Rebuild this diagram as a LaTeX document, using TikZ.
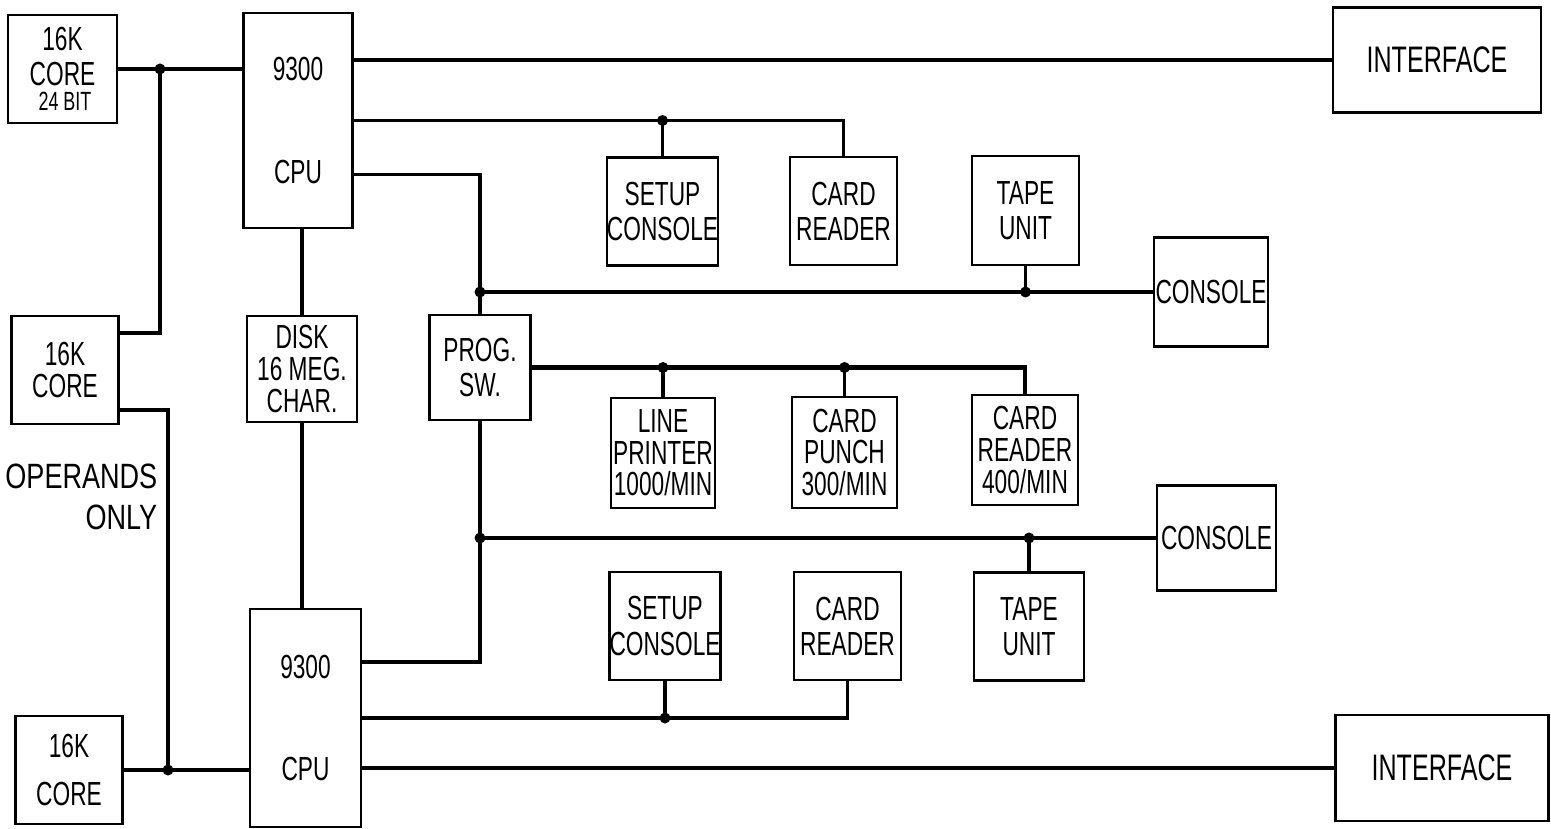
\documentclass[tikz,border=0pt]{standalone}
\usepackage{fontspec}
\setmainfont[FakeStretch=0.68]{Liberation Sans}
\newfontfamily\widefont[FakeStretch=0.77]{Liberation Sans}
\begin{document}
\begin{tikzpicture}[
    unit/.style={rectangle, draw=black, line width=0.75pt, align=center, inner sep=0pt, font=\fontsize{9.5}{11}\selectfont, minimum width=1.07cm, minimum height=1.08cm},
    cpu/.style={unit, minimum width=1.09cm, minimum height=2.15cm},
    iface/.style={unit, minimum width=2.1cm, minimum height=1.05cm, font=\fontsize{10.5}{12}\selectfont},
    bus/.style={draw=black, line width=0.95pt},
    dot/.style={circle, fill=black, inner sep=0pt, minimum size=0.11cm}
]
\useasboundingbox (0,0) rectangle (15.51,-8.29);

% Memories and processors
\node[unit, minimum width=1.09cm] (core1) at (0.625,-0.69) {16K\\[-1pt]CORE\\[-4pt]{\fontsize{7.5}{8}\selectfont\ 24 BIT}};
\node[unit] (core2) at (0.65,-3.70) {16K\\[-2pt]CORE};
\node[unit] (core3) at (0.69,-7.70) {16K\\[0.1cm]CORE};
\node[font=\widefont\fontsize{10}{11.5}\selectfont, align=right, anchor=east, inner sep=0pt] (ops) at (1.58,-4.97) {OPERANDS\\ONLY};
\node[cpu] (cpu1) at (2.98,-1.205) {9300\\[0.64cm]CPU};
\node[cpu, minimum width=1.11cm, minimum height=2.18cm] (cpu2) at (3.055,-7.18) {9300\\[0.64cm]CPU};
\node[unit, minimum width=1.10cm, minimum height=1.06cm] (disk) at (3.02,-3.69) {DISK\\[-2pt]16 MEG.\\[-2pt]CHAR.};

% Program switch
\node[unit, minimum width=1.01cm, minimum height=1.05cm] (psw) at (4.80,-3.675) {PROG.\\[-1pt]SW.};

% Peripherals, upper CPU
\node[unit] (setup1) at (6.625,-2.115) {SETUP\\[-1pt]CONSOLE};
\node[unit] (rdr1) at (8.435,-2.11) {CARD\\[-1pt]READER};
\node[unit, minimum height=1.09cm] (tape1) at (10.255,-2.105) {TAPE\\[-1pt]UNIT};
\node[unit, minimum width=1.14cm, minimum height=1.09cm] (con1) at (12.11,-2.92) {CONSOLE};

% Shared peripherals
\node[unit, minimum width=1.04cm, minimum height=1.10cm] (prt) at (6.63,-4.53) {LINE\\[-2pt]PRINTER\\[-2pt]1000/MIN};
\node[unit, minimum width=1.05cm, minimum height=1.11cm] (pch) at (8.445,-4.525) {CARD\\[-2pt]PUNCH\\[-2pt]300/MIN};
\node[unit, minimum width=1.06cm, minimum height=1.10cm] (rdr3) at (10.25,-4.50) {CARD\\[-2pt]READER\\[-2pt]400/MIN};

% Peripherals, lower CPU
\node[unit, minimum width=1.19cm, minimum height=1.05cm] (con2) at (12.165,-5.38) {CONSOLE};
\node[unit] (setup2) at (6.65,-6.26) {SETUP\\[-1pt]CONSOLE};
\node[unit] (rdr2) at (8.475,-6.26) {CARD\\[-1pt]READER};
\node[unit, minimum width=1.10cm] (tape2) at (10.29,-6.265) {TAPE\\[-1pt]UNIT};

% Interfaces
\node[iface, minimum width=2.08cm] (iface1) at (14.37,-0.60) {INTERFACE};
\node[iface, minimum width=2.13cm, minimum height=1.06cm] (iface2) at (14.42,-7.68) {INTERFACE};

% Junctions
\node[dot] (jcore) at (1.60,-0.69) {};
\node[dot] (jcore3) at (1.68,-7.70) {};
\node[dot] (jset1) at (setup1.north |- cpu1.east) {};
\node[dot] (jtop) at (psw.north |- con1.west) {};
\node[dot] (jtape1) at (tape1.south |- con1.west) {};
\node[dot] (jprt) at (prt.north |- psw.east) {};
\node[dot] (jpch) at (pch.north |- psw.east) {};
\node[dot] (jbot) at (psw.south |- con2.west) {};
\node[dot] (jtape2) at (tape2.north |- con2.west) {};
\node[dot] (jset2) at (setup2.south |- cpu2.east) {};

% Memory buses
\draw[bus] (core1.east) -- (cpu1.west |- core1.east);
\draw[bus] (jcore.center) |- ([yshift=0.37cm]core2.east);
\draw[bus] ([yshift=-0.40cm]core2.east) -| (jcore3.center);
\draw[bus] (core3.east) -- (cpu2.west |- core3.east);
\draw[bus] (cpu1.south -| disk) -- (disk.north);
\draw[bus] (disk.south) -- (disk.south |- cpu2.north);

% Upper CPU channels
\draw[bus] (iface1.west -| cpu1.east) -- (iface1.west);
\draw[bus] (cpu1.east) -| (rdr1.north);
\draw[bus] (jset1.center) -- (setup1.north);
\draw[bus] ([yshift=-0.54cm]cpu1.east) -| (psw.north);
\draw[bus] (jtop.center) -- (con1.west);
\draw[bus] (jtape1.center) -- (tape1.south);

% Switched channel
\draw[bus, line width=1.3pt] (psw.east) -| (rdr3.north);
\draw[bus] (jprt.center) -- (prt.north);
\draw[bus] (jpch.center) -- (pch.north);

% Lower CPU channels
\draw[bus] (psw.south) |- ([yshift=0.56cm]cpu2.east);
\draw[bus] (jbot.center) -- (con2.west);
\draw[bus] (jtape2.center) -- (tape2.north);
\draw[bus] (cpu2.east) -| (rdr2.south);
\draw[bus] (jset2.center) -- (setup2.south);
\draw[bus] (iface2.west -| cpu2.east) -- (iface2.west);
\end{tikzpicture}
\end{document}
